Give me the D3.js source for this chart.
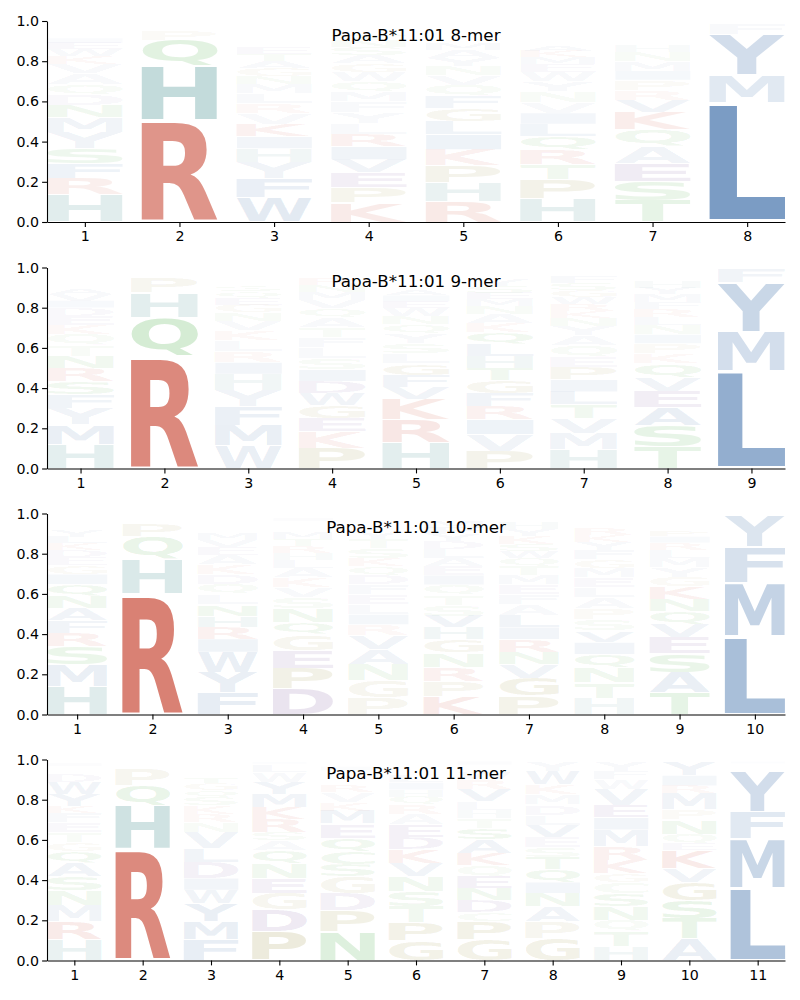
<!DOCTYPE html>
<html>
<head>
<meta charset="utf-8">
<script src="https://cdn.jsdelivr.net/npm/d3@7"></script>
<style>
  body { margin: 0; background: #fff; }
  text { font-family: "DejaVu Sans", sans-serif; }
</style>
</head>
<body>
<svg width="800" height="1000"></svg>
<script>
// titles of the four panels
var titles = ["Papa-B*11:01 8-mer", "Papa-B*11:01 9-mer", "Papa-B*11:01 10-mer", "Papa-B*11:01 11-mer"];

// each position: [letter, probability] stacked bottom to top
var mer8 = [
  [["H",.135],["R",.08],["F",.075],["S",.075],["Y",.08],["M",.075],["N",.06],["D",.055],["Q",.05],["A",.055],["V",.045],["K",.04],["W",.035],["E",.03],["I",.025],["G",.025],["T",.02],["L",.015],["P",.01],["C",.01]],
  [["R",.505],["H",.27],["Q",.13],["P",.045],["K",.012],["N",.01],["S",.008],["A",.006],["F",.005],["Y",.005],["M",.004]],
  [["W",.12],["F",.095],["Y",.08],["H",.07],["I",.06],["K",.06],["V",.055],["R",.05],["L",.05],["M",.045],["N",.04],["G",.04],["A",.035],["T",.035],["E",.03],["S",.025],["Q",.025],["D",.025],["P",.025],["C",.02]],
  [["K",.095],["P",.075],["E",.075],["V",.065],["I",.065],["R",.06],["L",.055],["Y",.055],["F",.055],["M",.05],["Q",.05],["W",.045],["G",.045],["A",.04],["S",.04],["N",.035],["T",.03],["D",.025],["H",.02],["C",.01]],
  [["R",.1],["H",.095],["P",.085],["K",.08],["I",.075],["L",.065],["G",.065],["F",.06],["Q",.055],["V",.05],["N",.045],["Y",.04],["A",.04],["M",.03],["S",.025],["T",.025],["E",.02],["W",.02],["D",.015],["C",.01]],
  [["H",.117],["P",.093],["T",.077],["R",.073],["Q",.065],["L",.063],["I",.055],["V",.055],["N",.055],["Y",.045],["W",.045],["E",.04],["M",.035],["K",.03],["A",.03],["S",.025],["F",.025],["G",.025],["D",.02],["C",.015]],
  [["T",.107],["S",.095],["E",.09],["A",.085],["Q",.085],["K",.085],["V",.06],["R",.05],["P",.05],["I",.045],["M",.05],["N",.045],["H",.035],["L",.025],["Y",.02],["F",.015],["D",.015],["G",.01],["W",.01],["C",.008]],
  [["L",.595],["M",.135],["Y",.205],["F",.055],["V",.005],["W",.005]]
];

var mer9 = [
  [["H",.12],["M",.098],["Y",.082],["F",.068],["S",.066],["R",.065],["N",.058],["T",.055],["Q",.055],["K",.048],["E",.045],["D",.04],["I",.035],["V",.03],["A",.03],["L",.025],["G",.023],["W",.02],["P",.012],["C",.008]],
  [["R",.56],["Q",.19],["H",.125],["P",.075],["K",.012],["N",.01],["S",.008],["A",.006],["M",.005],["F",.005],["Y",.004]],
  [["W",.116],["M",.1],["F",.092],["Y",.082],["H",.08],["I",.058],["R",.055],["L",.055],["K",.05],["V",.045],["N",.042],["G",.04],["E",.035],["Q",.03],["S",.028],["A",.025],["T",.02],["P",.02],["D",.015],["C",.01]],
  [["P",.1],["K",.083],["E",.065],["G",.065],["W",.063],["D",.058],["I",.057],["S",.055],["L",.055],["F",.05],["T",.05],["A",.05],["Q",.045],["V",.042],["M",.04],["N",.035],["R",.03],["Y",.025],["H",.012],["C",.008]],
  [["H",.127],["R",.115],["K",.1],["V",.063],["F",.06],["G",.058],["L",.05],["S",.05],["Y",.048],["Q",.045],["N",.04],["W",.04],["E",.035],["I",.03],["A",.03],["M",.025],["T",.025],["D",.02],["P",.015],["C",.01]],
  [["P",.086],["V",.084],["I",.073],["R",.067],["F",.065],["G",.065],["T",.06],["H",.06],["L",.058],["Q",.058],["K",.045],["A",.045],["N",.04],["M",.035],["E",.03],["S",.035],["Y",.03],["W",.025],["D",.02],["C",.012]],
  [["H",.094],["M",.083],["V",.073],["T",.067],["L",.065],["I",.06],["P",.06],["E",.055],["Q",.055],["A",.05],["Y",.045],["N",.04],["K",.035],["R",.035],["W",.035],["G",.035],["S",.035],["F",.03],["D",.02],["C",.01]],
  [["T",.107],["S",.105],["A",.09],["E",.08],["V",.07],["Q",.07],["K",.05],["P",.05],["I",.045],["N",.045],["L",.04],["R",.04],["F",.035],["M",.04],["Y",.03],["H",.03],["D",.02],["G",.02],["W",.015],["C",.01]],
  [["L",.485],["M",.195],["Y",.245],["F",.065],["V",.005],["W",.005]]
];

var mer10 = [
  [["H",.14],["M",.108],["S",.092],["R",.065],["F",.063],["A",.06],["N",.06],["Q",.06],["I",.05],["G",.045],["E",.04],["D",.035],["K",.035],["L",.03],["Y",.03],["V",.025],["W",.02],["T",.02],["P",.015],["C",.01]],
  [["R",.6],["H",.17],["Q",.115],["P",.06],["K",.013],["N",.011],["S",.009],["A",.008],["F",.006],["M",.004],["Y",.004]],
  [["F",.11],["Y",.1],["W",.1],["I",.066],["R",.058],["H",.057],["N",.057],["L",.05],["Q",.05],["D",.048],["K",.05],["A",.045],["E",.04],["V",.035],["M",.03],["G",.025],["S",.025],["T",.02],["P",.01],["C",.01]],
  [["D",.127],["P",.103],["E",.09],["G",.077],["Q",.06],["N",.07],["S",.055],["V",.05],["K",.05],["A",.045],["L",.04],["H",.035],["R",.035],["T",.035],["M",.03],["Y",.025],["W",.02],["F",.015],["I",.015],["C",.008]],
  [["P",.085],["G",.083],["N",.08],["A",.075],["V",.07],["R",.055],["I",.05],["L",.05],["E",.05],["F",.05],["D",.045],["Q",.045],["K",.04],["S",.05],["T",.045],["Y",.035],["M",.025],["H",.025],["W",.02],["C",.01]],
  [["K",.09],["P",.077],["R",.07],["N",.07],["G",.065],["H",.06],["V",.058],["S",.055],["T",.05],["Q",.05],["I",.048],["E",.045],["A",.04],["L",.045],["D",.04],["Y",.035],["F",.03],["M",.03],["W",.015],["C",.01]],
  [["P",.092],["G",.09],["V",.066],["N",.062],["R",.064],["I",.06],["L",.058],["A",.055],["F",.05],["E",.05],["M",.045],["T",.045],["Q",.04],["W",.035],["S",.035],["K",.04],["Y",.035],["H",.03],["D",.025],["C",.01]],
  [["H",.08],["T",.078],["N",.075],["Q",.066],["I",.06],["V",.057],["S",.055],["P",.055],["A",.055],["L",.05],["E",.05],["M",.045],["G",.045],["F",.045],["Y",.04],["K",.035],["R",.035],["W",.025],["D",.02],["C",.01]],
  [["T",.11],["A",.1],["S",.095],["E",.08],["V",.065],["Q",.065],["N",.06],["K",.06],["G",.05],["Y",.05],["M",.045],["L",.04],["R",.035],["I",.03],["P",.03],["F",.025],["H",.02],["D",.02],["W",.015],["C",.005]],
  [["L",.39],["M",.265],["F",.18],["Y",.155],["V",.005],["W",.005]]
];

var mer11 = [
  [["H",.103],["R",.091],["M",.082],["N",.074],["S",.07],["A",.066],["Q",.058],["G",.045],["T",.048],["E",.05],["F",.045],["K",.035],["Y",.06],["W",.06],["D",.04],["V",.02],["L",.02],["I",.015],["P",.01],["C",.008]],
  [["R",.555],["H",.215],["Q",.1],["P",.08],["K",.012],["N",.01],["S",.008],["A",.006],["F",.005],["M",.005],["Y",.004]],
  [["F",.103],["M",.091],["Y",.091],["W",.065],["I",.06],["D",.08],["L",.07],["V",.08],["N",.05],["R",.04],["K",.04],["S",.04],["Q",.035],["G",.035],["T",.03],["E",.025],["A",.025],["H",.015],["P",.01],["C",.01]],
  [["P",.144],["D",.108],["G",.083],["E",.075],["N",.073],["Q",.067],["A",.05],["S",.04],["R",.065],["K",.058],["M",.065],["Y",.06],["W",.05],["L",.03],["V",.01],["I",.01],["T",.005],["H",.004],["F",.003],["C",.002]],
  [["N",.144],["P",.106],["D",.085],["G",.082],["S",.063],["C",.065],["Q",.065],["E",.07],["M",.065],["K",.04],["V",.05],["R",.035],["L",.025],["A",.025],["Y",.025],["I",.02],["T",.02],["W",.005],["H",.005],["F",.005]],
  [["G",.1],["P",.09],["T",.08],["S",.075],["N",.075],["V",.065],["K",.07],["D",.06],["E",.06],["A",.055],["R",.045],["Q",.04],["H",.035],["I",.035],["L",.03],["M",.025],["Y",.025],["F",.015],["W",.01],["C",.01]],
  [["G",.103],["P",.091],["C",.045],["D",.06],["N",.058],["E",.06],["Q",.055],["K",.06],["A",.07],["S",.058],["T",.05],["H",.04],["L",.04],["V",.06],["R",.05],["W",.03],["Y",.025],["M",.02],["I",.015],["F",.01]],
  [["G",.11],["P",.084],["A",.076],["N",.065],["I",.055],["Q",.065],["T",.06],["S",.046],["E",.054],["V",.06],["L",.05],["D",.05],["M",.05],["K",.05],["W",.065],["Y",.05],["R",.005],["H",.003],["F",.001],["C",.001]],
  [["H",.07],["T",.074],["Q",.056],["N",.07],["S",.065],["C",.055],["G",.044],["K",.066],["R",.066],["M",.084],["I",.06],["E",.06],["V",.08],["W",.05],["F",.04],["Y",.045],["A",.005],["L",.005],["D",.005]],
  [["A",.11],["T",.1],["S",.09],["G",.09],["V",.07],["K",.09],["E",.03],["Q",.05],["N",.07],["P",.05],["M",.08],["R",.04],["I",.05],["Y",.07],["L",.005],["F",.005]],
  [["L",.36],["M",.245],["F",.135],["Y",.205],["V",.02],["W",.015],["I",.01],["A",.01]]
];

var panels = [mer8, mer9, mer10, mer11];

// amino acid colour groups
var aaColor = {};
"AFILMVWY".split("").forEach(function(c) { aaColor[c] = "#21599c"; });
"KR".split("").forEach(function(c) { aaColor[c] = "#c02d17"; });
aaColor["H"] = "#217a7a";
"CNQST".split("").forEach(function(c) { aaColor[c] = "#1f9a1a"; });
"DE".split("").forEach(function(c) { aaColor[c] = "#5a2882"; });
"GP".split("").forEach(function(c) { aaColor[c] = "#827814"; });

// more probable letters are drawn more opaque
var alpha = d3.scaleLinear().domain([0, 1]).range([0, 1]).clamp(true);

var svg = d3.select("svg");

var margin = { left: 47, right: 15 },
  width = 800 - margin.left - margin.right,
  panelTops = [21, 267.5, 513.5, 759.5],
  panelH = 201;

// ink bounds of each glyph, so letters fill their box exactly
var ctx = document.createElement("canvas").getContext("2d");
ctx.font = "bold 100px 'DejaVu Sans'";
var glyph = {};
function metrics(ch) {
  if (!glyph[ch]) {
    var m = ctx.measureText(ch);
    glyph[ch] = {
      l: m.actualBoundingBoxLeft, r: m.actualBoundingBoxRight,
      a: m.actualBoundingBoxAscent, d: m.actualBoundingBoxDescent
    };
  }
  return glyph[ch];
}

var vpad = 0.05, colW = 0.8;

panels.forEach(function(cols, p) {
  var n = cols.length;
  var g = svg.append("g").attr("transform", "translate(" + margin.left + "," + panelTops[p] + ")");

  var x = d3.scaleLinear().domain([0.6, n + 0.4]).range([0, width]);
  var y = d3.scaleLinear().domain([0, 1]).range([panelH, 0]);

  cols.forEach(function(col, i) {
    var pos = i + 1, cum = 0;
    col.forEach(function(d) {
      var h = d[1], pad = h * vpad / 2;
      var x0 = x(pos - colW / 2), x1 = x(pos + colW / 2);
      var yTop = y(cum + h - pad), yBot = y(cum + pad);
      var m = metrics(d[0]);
      var sx = (x1 - x0) / (m.l + m.r), sy = (yBot - yTop) / (m.a + m.d);
      g.append("text")
        .attr("transform", "translate(" + x0 + "," + yTop + ") scale(" + sx + "," + sy + ")")
        .attr("x", m.l)
        .attr("y", m.a)
        .attr("font-size", 100)
        .attr("font-weight", "bold")
        .attr("fill", aaColor[d[0]])
        .attr("fill-opacity", alpha(h))
        .text(d[0]);
      cum += h;
    });
  });

  var yAxis = d3.axisLeft(y).tickValues([0, 0.2, 0.4, 0.6, 0.8, 1.0])
    .tickFormat(d3.format(".1f")).tickSize(4.9).tickPadding(3).tickSizeOuter(0);
  var xAxis = d3.axisBottom(x).tickValues(d3.range(1, n + 1))
    .tickFormat(d3.format("d")).tickSize(4.9).tickPadding(4.5).tickSizeOuter(0);

  g.append("g").attr("class", "axis").call(yAxis);
  g.append("g").attr("class", "axis").attr("transform", "translate(0," + panelH + ")").call(xAxis);

  g.selectAll(".axis text").attr("font-size", 14.2).attr("fill", "#000")
    .style("font-family", "'DejaVu Sans', sans-serif");
  g.selectAll(".axis path, .axis line").attr("stroke", "#000").attr("stroke-width", 1.1);

  g.append("text")
    .attr("x", width / 2)
    .attr("y", 19.5)
    .attr("text-anchor", "middle")
    .attr("font-size", 16.7)
    .attr("fill", "#000")
    .text(titles[p]);
});
</script>
</body>
</html>
